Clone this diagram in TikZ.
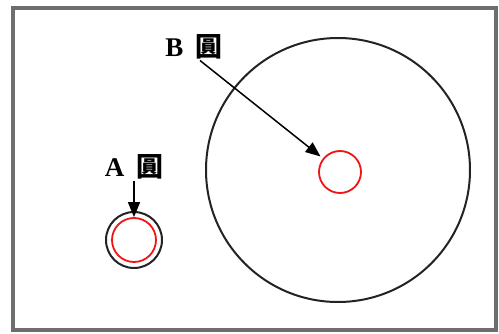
\documentclass[tikz,border=0pt]{standalone}
\usepackage{fontspec}
\setmainfont{Liberation Serif}
\newfontfamily\cjkfont{Noto Sans CJK TC}
\usepackage{xcolor}
\definecolor{framegray}{RGB}{110,110,110}
\definecolor{ringblack}{RGB}{35,35,35}
\definecolor{ringred}{RGB}{240,20,20}
\usetikzlibrary{arrows.meta, positioning}
\tikzset{
  ring/.style={draw=ringblack, line width=2pt, circle, inner sep=0pt},
  redring/.style={draw=ringred, line width=1.8pt, circle, inner sep=0pt},
  pointer/.style={-{Triangle[length=15pt,width=12pt]}, line width=1.5pt, black},
  tag/.style={font=\fontsize{27}{29}\selectfont\bfseries, inner sep=1pt}
}
\begin{document}
\begin{tikzpicture}[x=1pt, y=1pt]
      \useasboundingbox (0,0) rectangle (499,333);
      % Frame
      \draw[framegray, line width=3.5pt] (13,3) rectangle (496,325);
      % Big circle with red center
      \node[ring, minimum size=264pt] (bigc) at (338,163) {};
      \node[redring, minimum size=42pt] (redb) at (340,161) {};
      % Small circle with red center
      \node[ring, minimum size=56pt] (smallc) at (134,93) {};
      \node[redring, minimum size=44pt] (reda) at (134,93) {};
      % Labels
      \node[tag] (labB) at (194,286) {B\hspace{12pt}{\cjkfont 圓}};
      \node[tag] (labA) at (134,166) {A\hspace{12pt}{\cjkfont 圓}};
      % Arrows
      \draw[pointer, shorten >=3pt] ([xshift=6pt]labB.south) -- (redb);
      \draw[pointer] (labA.south) -- (reda.north);
    \end{tikzpicture}
\end{document}
